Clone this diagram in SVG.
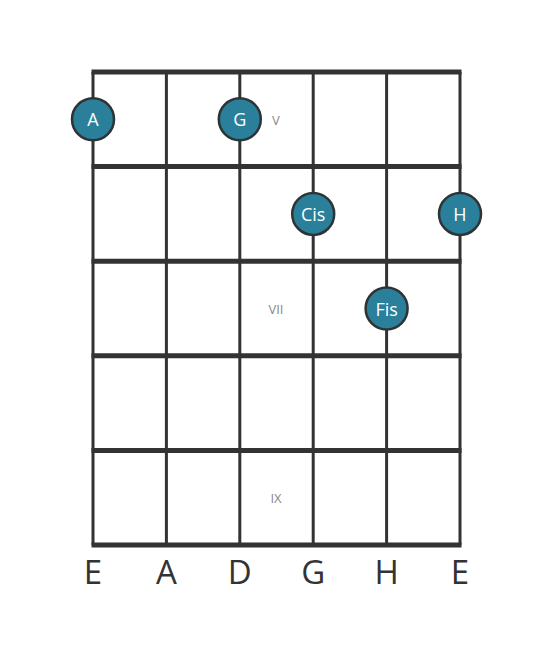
<svg xmlns="http://www.w3.org/2000/svg" width="553" height="656" viewBox="0 0 553 656">
<style>
.fret{stroke:#333;stroke-width:5}
.str{stroke:#333;stroke-width:3}
.dot{fill:#2a7f9a;stroke:#2e3436;stroke-width:2.5}
.dt{fill:#fff;font-family:"Open Sans",sans-serif;font-size:18px;text-anchor:middle;dominant-baseline:central}
.fl{fill:#888;font-family:"Open Sans",sans-serif;font-size:13px;text-anchor:middle;dominant-baseline:central}
.sl{fill:#333;font-family:"Open Sans",sans-serif;font-size:33px;text-anchor:middle;dominant-baseline:central}
</style>
<rect width="553" height="656" fill="#fff"/>
<g id="grid">
<line class="str" x1="93" y1="72" x2="93" y2="545"/>
<line class="str" x1="166.4" y1="72" x2="166.4" y2="545"/>
<line class="str" x1="239.8" y1="72" x2="239.8" y2="545"/>
<line class="str" x1="313.2" y1="72" x2="313.2" y2="545"/>
<line class="str" x1="386.6" y1="72" x2="386.6" y2="545"/>
<line class="str" x1="460" y1="72" x2="460" y2="545"/>
<line class="fret" x1="91.5" y1="72" x2="461.5" y2="72"/>
<line class="fret" x1="91.5" y1="166.6" x2="461.5" y2="166.6"/>
<line class="fret" x1="91.5" y1="261.2" x2="461.5" y2="261.2"/>
<line class="fret" x1="91.5" y1="355.8" x2="461.5" y2="355.8"/>
<line class="fret" x1="91.5" y1="450.4" x2="461.5" y2="450.4"/>
<line class="fret" x1="91.5" y1="545" x2="461.5" y2="545"/>
</g>
<g id="fret-labels">
<text class="fl" x="276" y="120">V</text>
<text class="fl" x="276" y="309">VII</text>
<text class="fl" x="276" y="498">IX</text>
</g>
<g id="note-A"><circle class="dot" cx="93" cy="119.3" r="21"/><text class="dt" x="93" y="119.3">A</text></g>
<g id="note-G"><circle class="dot" cx="239.8" cy="119.3" r="21"/><text class="dt" x="239.8" y="119.3">G</text></g>
<g id="note-Cis"><circle class="dot" cx="313.2" cy="213.9" r="21"/><text class="dt" x="313.2" y="213.9">Cis</text></g>
<g id="note-H"><circle class="dot" cx="460" cy="213.9" r="21"/><text class="dt" x="460" y="213.9">H</text></g>
<g id="note-Fis"><circle class="dot" cx="386.6" cy="308.5" r="21"/><text class="dt" x="386.6" y="308.5">Fis</text></g>
<g id="string-labels">
<text class="sl" x="93" y="571">E</text>
<text class="sl" x="166.4" y="571">A</text>
<text class="sl" x="239.8" y="571">D</text>
<text class="sl" x="313.2" y="571">G</text>
<text class="sl" x="386.6" y="571">H</text>
<text class="sl" x="460" y="571">E</text>
</g>
</svg>
